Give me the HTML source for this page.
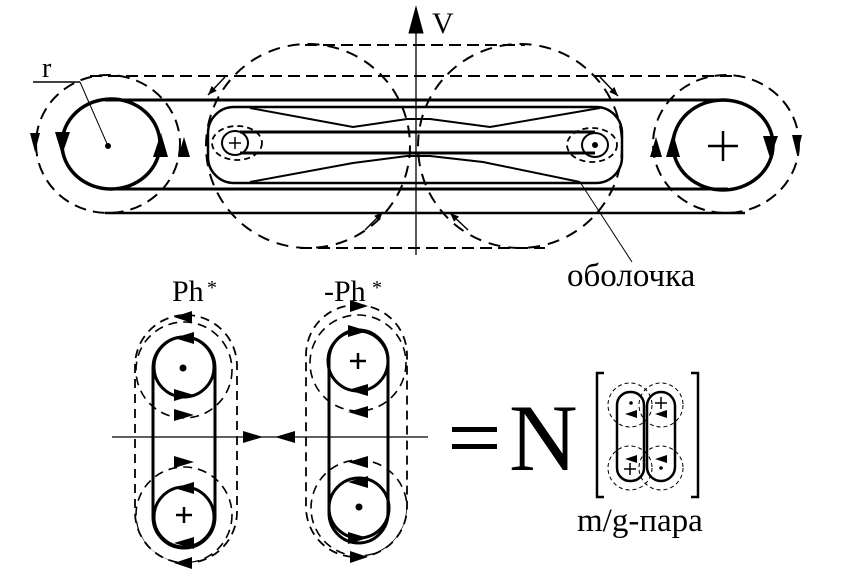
<!DOCTYPE html>
<html><head><meta charset="utf-8"><style>
html,body{margin:0;padding:0;background:#fff;}
svg{display:block;}
text{font-family:"Liberation Serif",serif;fill:#000;}
</style></head><body>
<svg width="849" height="586" viewBox="0 0 849 586" xmlns="http://www.w3.org/2000/svg">
<defs>
<marker id="ah" viewBox="0 0 10 10" refX="10" refY="5" markerWidth="6" markerHeight="6" orient="auto"><path d="M0,1 L10,5 L0,9 z" fill="#000"/></marker>
<clipPath id="cl"><rect x="135" y="315" width="102" height="248" rx="51"/></clipPath>
<clipPath id="cr"><rect x="306" y="305" width="101" height="252" rx="50"/></clipPath>
</defs>
<g fill="none" stroke="#000">
<line x1="416" y1="20" x2="416" y2="255" stroke-width="1.3"/>
<path d="M409,33 L416,7 L423,33 z" fill="#000"/>
<g stroke-dasharray="12,6" stroke-width="2">
<line x1="305" y1="45" x2="525" y2="45"/>
<line x1="90" y1="76" x2="740" y2="76"/>
<line x1="300" y1="248" x2="545" y2="248"/>
</g>
<g stroke-width="3">
<line x1="105" y1="100" x2="728" y2="100"/>
<line x1="105" y1="189" x2="728" y2="189"/>
</g>
<line x1="105" y1="213" x2="745" y2="213" stroke-width="2.5"/>
<line x1="240" y1="132" x2="595" y2="132" stroke-width="3"/>
<line x1="240" y1="153" x2="595" y2="153" stroke-width="3"/>
<rect x="208" y="107" width="414" height="76" rx="26" stroke-width="2.5"/>
<polyline points="250,108 353,127 407,119 430,119 490,127 600,108" stroke-width="2"/>
<polyline points="250,182 353,163 407,156 430,156 483,162 580,182" stroke-width="2"/>
<ellipse cx="111" cy="144" rx="49" ry="45" stroke-width="3.5"/>
<ellipse cx="108" cy="144" rx="72" ry="69" stroke-width="2" stroke-dasharray="12,7"/>
<ellipse cx="723" cy="145" rx="50" ry="45" stroke-width="3.5"/>
<ellipse cx="726" cy="144" rx="73" ry="69" stroke-width="2" stroke-dasharray="12,7"/>
<circle cx="308" cy="146" r="102" stroke-width="2" stroke-dasharray="12,8"/>
<circle cx="520" cy="146" r="102" stroke-width="2" stroke-dasharray="12,8"/>
<ellipse cx="235" cy="143" rx="13" ry="12" stroke-width="2"/>
<ellipse cx="237" cy="143" rx="25" ry="17" stroke-width="1.8" stroke-dasharray="6,4"/>
<ellipse cx="595" cy="145" rx="13" ry="12" stroke-width="2"/>
<ellipse cx="592" cy="145" rx="25" ry="17" stroke-width="1.8" stroke-dasharray="6,4"/>
<line x1="229" y1="143" x2="241" y2="143" stroke-width="1.5"/>
<line x1="235" y1="137" x2="235" y2="149" stroke-width="1.5"/>
<line x1="708" y1="146" x2="738" y2="146" stroke-width="2.5"/>
<line x1="723" y1="131" x2="723" y2="161" stroke-width="2.5"/>
<line x1="33" y1="82" x2="80" y2="82" stroke-width="1.5"/>
<line x1="80" y1="82" x2="108" y2="146" stroke-width="1"/>
<line x1="580" y1="182" x2="632" y2="262" stroke-width="1"/>
<line x1="225" y1="77" x2="208" y2="95" stroke-width="1.5" marker-end="url(#ah)"/>
<line x1="365" y1="230" x2="383" y2="212" stroke-width="1.5" marker-end="url(#ah)"/>
<line x1="600" y1="77" x2="618" y2="96" stroke-width="1.5" marker-end="url(#ah)"/>
<line x1="468" y1="230" x2="450" y2="213" stroke-width="1.5" marker-end="url(#ah)"/>
</g>
<g fill="#000">
<circle cx="108" cy="146" r="3"/>
<circle cx="595" cy="145" r="3"/>
<path d="M30,133 L40,133 L35,152 z"/>
<path d="M55,132 L70,132 L62,155 z"/>
<path d="M153,157 L168,157 L161,133 z"/>
<path d="M178,157 L190,157 L184,137 z"/>
<path d="M650,157 L662,157 L656,137 z"/>
<path d="M666,157 L680,157 L673,133 z"/>
<path d="M763,136 L778,136 L770,158 z"/>
<path d="M792,135 L802,135 L797,155 z"/>
</g>
<text x="42" y="77" font-size="28">r</text>
<text x="432" y="33" font-size="30">V</text>
<text x="567" y="286" font-size="33">оболочка</text>

<g fill="none" stroke="#000">
<line x1="112" y1="437" x2="428" y2="437" stroke-width="1.2"/>
<rect x="153" y="337" width="62" height="211" rx="31" stroke-width="3"/>
<circle cx="184" cy="367" r="30" stroke-width="3"/>
<circle cx="184" cy="517" r="30" stroke-width="3"/>
<rect x="135" y="315" width="102" height="248" rx="51" stroke-width="1.8" stroke-dasharray="9,6"/>
<g clip-path="url(#cl)">
<circle cx="184" cy="370" r="48" stroke-width="1.6" stroke-dasharray="9,6"/>
<circle cx="184" cy="515" r="48" stroke-width="1.6" stroke-dasharray="9,6"/>
</g>
<line x1="176" y1="515" x2="192" y2="515" stroke-width="2.5"/>
<line x1="184" y1="507" x2="184" y2="523" stroke-width="2.5"/>
<rect x="329" y="330" width="59" height="213" rx="30" stroke-width="3"/>
<circle cx="358" cy="361" r="30" stroke-width="3"/>
<circle cx="359" cy="508" r="30" stroke-width="3"/>
<rect x="306" y="305" width="101" height="252" rx="50" stroke-width="1.8" stroke-dasharray="9,6"/>
<g clip-path="url(#cr)">
<circle cx="358" cy="363" r="48" stroke-width="1.6" stroke-dasharray="9,6"/>
<circle cx="359" cy="508" r="48" stroke-width="1.6" stroke-dasharray="9,6"/>
</g>
<line x1="350" y1="361" x2="366" y2="361" stroke-width="2.5"/>
<line x1="358" y1="353" x2="358" y2="369" stroke-width="2.5"/>
</g>
<g fill="#000">
<circle cx="183" cy="368" r="3.5"/>
<circle cx="359" cy="507" r="3.5"/>
<path d="M174,338 L194,332 L194,344 z"/>
<path d="M194,395 L174,389 L174,401 z"/>
<path d="M194,415 L174,409 L174,421 z"/>
<path d="M174,317 L192,311 L192,323 z"/>
<path d="M194,462 L174,456 L174,468 z"/>
<path d="M174,488 L194,482 L194,494 z"/>
<path d="M174,543 L194,537 L194,549 z"/>
<path d="M174,563 L192,557 L192,569 z"/>
<path d="M368,331 L348,325 L348,337 z"/>
<path d="M348,390 L368,384 L368,396 z"/>
<path d="M348,412 L368,406 L368,418 z"/>
<path d="M368,306 L350,300 L350,312 z"/>
<path d="M348,462 L368,456 L368,468 z"/>
<path d="M348,482 L368,476 L368,488 z"/>
<path d="M368,538 L348,532 L348,544 z"/>
<path d="M368,557 L350,551 L350,563 z"/>
<path d="M243,431 L263,437 L243,443 z"/>
<path d="M295,431 L275,437 L295,443 z"/>
<rect x="452" y="427" width="45" height="5"/>
<rect x="452" y="444" width="45" height="5"/>
</g>
<text x="172" y="301" font-size="30">Ph</text>
<text x="207" y="294" font-size="20">*</text>
<text x="324" y="301" font-size="30">-Ph</text>
<text x="372" y="294" font-size="20">*</text>
<text x="509" y="470" font-size="95">N</text>
<g fill="none" stroke="#000" stroke-width="2.5">
<polyline points="604,373 597,373 597,497 604,497"/>
<polyline points="691,373 698,373 698,497 691,497"/>
<rect x="617" y="392" width="27" height="89" rx="13"/>
<rect x="647" y="392" width="28" height="89" rx="14"/>
</g>
<g fill="none" stroke="#000" stroke-width="1" stroke-dasharray="4,3">
<circle cx="630" cy="405" r="22"/>
<circle cx="661" cy="405" r="22"/>
<circle cx="630" cy="468" r="22"/>
<circle cx="661" cy="468" r="22"/>
</g>
<g fill="#000">
<circle cx="631" cy="403" r="1.8"/><circle cx="661" cy="468" r="1.8"/>
<path d="M625,414 L637,410 L637,418 z"/><path d="M655,414 L667,410 L667,418 z"/>
<path d="M625,459 L637,455 L637,463 z"/><path d="M655,459 L667,455 L667,463 z"/>
</g>
<g stroke="#000" stroke-width="1.5">
<line x1="655" y1="403" x2="667" y2="403"/><line x1="661" y1="397" x2="661" y2="409"/>
<line x1="624" y1="469" x2="636" y2="469"/><line x1="630" y1="463" x2="630" y2="475"/>
</g>
<text x="577" y="531" font-size="33">m/g-пара</text>
</svg>
</body></html>
